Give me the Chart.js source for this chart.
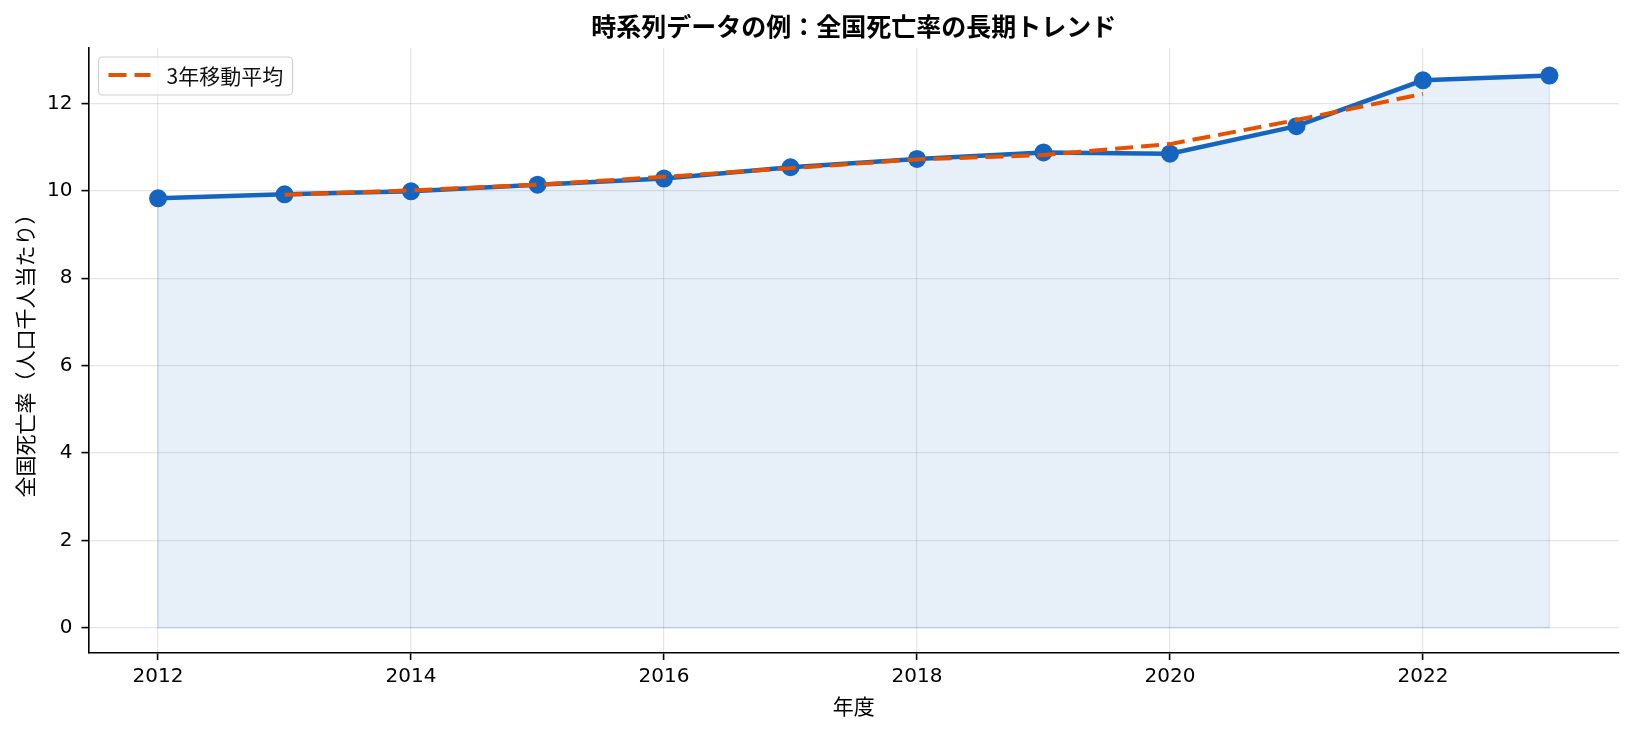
<!DOCTYPE html>
<html lang="ja">
  <head>
    <meta charset="UTF-8" />
    <title>全国死亡率の長期トレンド</title>
    <style>
      * {
        box-sizing: border-box;
      }

      body {
        margin: 0;
        background: #fff;
        font-family: "Noto Sans CJK JP", "Noto Sans", sans-serif;
      }

      .wrap {
        width: 1634px;
        height: 735px;
      }
    </style>
  </head>
  <body>
    <script src="https://cdn.jsdelivr.net/npm/chart.js@4.4.1/dist/chart.umd.min.js"></script>

    <div class="wrap">
      <canvas id="line-chart" width="1634" height="735"></canvas>
    </div>
    <script>
      // values
      const years = [2012, 2013, 2014, 2015, 2016, 2017, 2018, 2019, 2020, 2021, 2022, 2023];
      const deathRate = [9.83, 9.92, 9.99, 10.14, 10.28, 10.54, 10.73, 10.88, 10.85, 11.48, 12.53, 12.64];
      const movingAvg = [null, 9.91, 10.01, 10.14, 10.32, 10.52, 10.72, 10.82, 11.07, 11.62, 12.22, null];
      const xTicks = [2012, 2014, 2016, 2018, 2020, 2022];
      const yTicks = [0, 2, 4, 6, 8, 10, 12];

      const CJK = "'Noto Sans CJK JP', 'Noto Sans', sans-serif";
      const NUM = "'DejaVu Sans', 'Noto Sans CJK JP', sans-serif";
      const BLUE = "#1565c0";
      const ORANGE = "#e65100";
      const TITLE = "時系列データの例：全国死亡率の長期トレンド";

      const toPoints = vals => years.map((yr, i) => ({ x: yr, y: vals[i] }));

      // title over the plot area, faint outline of the filled area, legend inside the plot
      const extras = {
        id: "extras",
        beforeDatasetsDraw(chart) {
          const ctx = chart.ctx;
          const xs = chart.scales.x;
          const ys = chart.scales.y;
          const last = years.length - 1;
          const x0 = xs.getPixelForValue(years[0]);
          const x1 = xs.getPixelForValue(years[last]);
          const base = ys.getPixelForValue(0);
          ctx.save();
          ctx.strokeStyle = "rgba(21,101,192,0.14)";
          ctx.lineWidth = 1.5;
          ctx.beginPath();
          ctx.moveTo(x0, ys.getPixelForValue(deathRate[0]));
          ctx.lineTo(x0, base);
          ctx.lineTo(x1, base);
          ctx.lineTo(x1, ys.getPixelForValue(deathRate[last]));
          ctx.stroke();
          ctx.restore();
        },
        afterDraw(chart) {
          const ctx = chart.ctx;
          const area = chart.chartArea;
          ctx.save();
          ctx.fillStyle = "#000";
          ctx.font = "bold 25px " + CJK;
          ctx.textAlign = "center";
          ctx.textBaseline = "middle";
          ctx.fillText(TITLE, (area.left + area.right) / 2, 26);

          const lx = area.left + 10;
          const ly = area.top + 9;
          ctx.fillStyle = "rgba(255,255,255,0.8)";
          ctx.strokeStyle = "#d0d0d0";
          ctx.lineWidth = 1.2;
          ctx.beginPath();
          ctx.roundRect(lx, ly, 194, 38, 4);
          ctx.fill();
          ctx.stroke();
          ctx.strokeStyle = ORANGE;
          ctx.lineWidth = 4;
          ctx.setLineDash([18, 8]);
          ctx.beginPath();
          ctx.moveTo(lx + 10, ly + 18);
          ctx.lineTo(lx + 52, ly + 18);
          ctx.stroke();
          ctx.setLineDash([]);
          ctx.fillStyle = "#111";
          ctx.textAlign = "left";
          ctx.font = "21px " + CJK;
          ctx.fillText("3年移動平均", lx + 68, ly + 19);
          ctx.restore();
        }
      };

      new Chart(document.getElementById("line-chart"), {
        type: "line",
        data: {
          datasets: [
            {
              label: "全国死亡率",
              data: toPoints(deathRate),
              borderColor: BLUE,
              backgroundColor: "rgba(21,101,192,0.1)",
              borderWidth: 4.5,
              pointRadius: 9,
              pointHoverRadius: 9,
              pointBorderWidth: 0,
              pointBackgroundColor: BLUE,
              pointBorderColor: BLUE,
              fill: "origin",
              tension: 0,
              order: 2
            },
            {
              label: "3年移動平均",
              data: toPoints(movingAvg),
              borderColor: ORANGE,
              borderWidth: 4,
              borderDash: [18, 8],
              borderCapStyle: "butt",
              pointRadius: 0,
              fill: false,
              spanGaps: false,
              tension: 0,
              order: 1
            }
          ]
        },
        options: {
          responsive: false,
          animation: false,
          layout: {
            padding: { left: 0, right: 15, top: 48, bottom: 0 }
          },
          plugins: {
            legend: { display: false },
            tooltip: { enabled: false },
            title: { display: false }
          },
          scales: {
            x: {
              type: "linear",
              min: 2011.45,
              max: 2023.55,
              afterBuildTicks: scale => {
                scale.ticks = xTicks.map(v => ({ value: v }));
              },
              afterFit: scale => {
                scale.height = 82;
              },
              grid: {
                color: "rgba(0,0,0,0.1)",
                lineWidth: 1.2,
                tickColor: "#000",
                tickWidth: 1.6,
                tickLength: 7
              },
              border: { color: "#000", width: 1.6 },
              ticks: {
                color: "#000",
                padding: 5,
                font: { family: NUM, size: 20 },
                callback: v => String(v)
              },
              title: {
                display: true,
                text: "年度",
                color: "#000",
                font: { family: CJK, size: 21 },
                padding: { top: 0, bottom: 16 }
              }
            },
            y: {
              type: "linear",
              min: -0.58,
              max: 13.27,
              afterBuildTicks: scale => {
                scale.ticks = yTicks.map(v => ({ value: v }));
              },
              afterFit: scale => {
                scale.width = 88.5;
              },
              grid: {
                color: "rgba(0,0,0,0.1)",
                lineWidth: 1.2,
                tickColor: "#000",
                tickWidth: 1.6,
                tickLength: 7
              },
              border: { color: "#000", width: 1.6 },
              ticks: {
                color: "#000",
                padding: 9,
                font: { family: NUM, size: 20 }
              },
              title: {
                display: true,
                text: "全国死亡率（人口千人当たり）",
                color: "#000",
                font: { family: CJK, size: 21 },
                padding: { top: 12, bottom: 0 }
              }
            }
          }
        },
        plugins: [extras]
      });
    </script>
  </body>
</html>
